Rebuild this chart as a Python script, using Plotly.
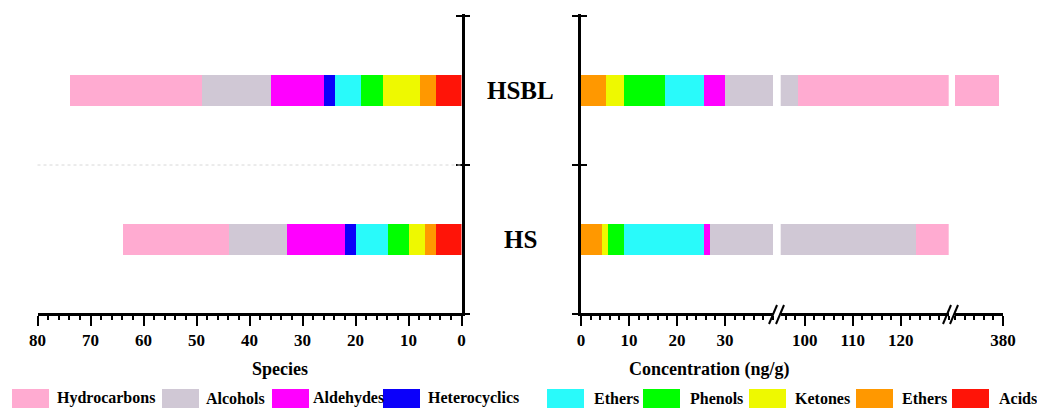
import plotly.graph_objects as go

# ---------------- data ----------------
samples = ["HS", "HSBL"]
classes = ["Acids", "Ethers", "Ketones", "Phenols", "Ethers", "Heterocyclics",
           "Aldehydes", "Alcohols", "Hydrocarbons"]
species_HS = [5, 2, 3, 4, 6, 2, 11, 11, 20]
species_HSBL = [5, 3, 7, 4, 5, 2, 10, 13, 25]
conc_HS = [0, 4.4, 1.3, 3.3, 16.6, 0, 1.2, 96.3, 7.2]
conc_HSBL = [0, 5.2, 3.7, 8.5, 8.3, 0, 4.4, 68.4, 280.7]
species_ticks = [80, 70, 60, 50, 40, 30, 20, 10, 0]
conc_seg_ranges = [[0, 40], [95, 130], [370, 380]]
conc_seg_ticks = [[0, 10, 20, 30], [100, 110, 120], [380]]

# ---------------- style ----------------
colors = ["#FF1408", "#FF9800", "#EEF900", "#00FF00", "#29FAFA", "#0B00FA",
          "#FF00FF", "#D0C8D5", "#FFABD1"]
W, H = 1037, 408
FONT = "Liberation Serif"
def px(x):
    return x / W
def py(y):
    return 1 - y / H

y_pos = list(range(len(samples)))
y_bounds = [k - 0.5 for k in range(len(samples) + 1)]
EPS = 0.012
y_range = [y_bounds[0] - EPS, y_bounds[-1] + EPS]
PLOT_TOP, PLOT_BOT = 16, 314
unit_px = (PLOT_BOT - PLOT_TOP) / len(samples)
y_dom = [py(PLOT_BOT + EPS * unit_px), py(PLOT_TOP - EPS * unit_px)]
x_axis_pos = py(PLOT_BOT)

left_dom = [px(37.5), px(461.5)]
seg_doms = [[px(581), px(773)], [px(780.7), px(948.7)], [px(955), px(1003)]]
seg_axes = ["x2", "x3", "x4"]
bar_w = 0.21

fig = go.Figure()
for i, name in enumerate(classes):
    fig.add_trace(go.Bar(y=y_pos, x=[species_HS[i], species_HSBL[i]], orientation="h",
                         marker=dict(color=colors[i], line=dict(width=0)), width=bar_w,
                         xaxis="x", yaxis="y", showlegend=False, name=name))
    for ax in seg_axes:
        fig.add_trace(go.Bar(y=y_pos, x=[conc_HS[i], conc_HSBL[i]], orientation="h",
                             marker=dict(color=colors[i], line=dict(width=0)), width=bar_w,
                             xaxis=ax, yaxis="y2", showlegend=False, name=name))
# helper traces for crossing ticks
fig.add_trace(go.Scatter(x=[None, None], y=y_pos, xaxis="x", yaxis="y3", showlegend=False, hoverinfo="skip"))
fig.add_trace(go.Scatter(x=[None, None], y=y_pos, xaxis="x2", yaxis="y4", showlegend=False, hoverinfo="skip"))

tickfont = dict(family=FONT, size=17, color="black", weight="bold")
common_x = dict(showline=True, linecolor="black", linewidth=2.5, ticks="outside", ticklen=10,
                tickwidth=2, tickcolor="black", showgrid=False, zeroline=False, tickfont=tickfont,
                automargin=False, anchor="free", position=x_axis_pos,
                minor=dict(dtick=2, tick0=0, ticks="outside", ticklen=4, tickwidth=1.5,
                           tickcolor="black", showgrid=False))
common_y = dict(range=y_range, tickmode="array", tickvals=y_bounds, ticklen=6, tickwidth=2,
                tickcolor="black", automargin=False, showticklabels=False, showgrid=False,
                zeroline=False, domain=y_dom)

layout = dict(
    width=W, height=H, autosize=False,
    margin=dict(l=0, r=0, t=0, b=0, pad=0, autoexpand=False), barmode="stack", bargap=0,
    plot_bgcolor="rgba(0,0,0,0)", paper_bgcolor="white",
    xaxis=dict(domain=left_dom, range=[80, 0], tickmode="array",
               tickvals=species_ticks, **common_x),
    yaxis=dict(anchor="x", side="right", showline=True, linecolor="black", linewidth=2.5,
               ticks="outside", **common_y),
    yaxis3=dict(anchor="x", side="right", overlaying="y", showline=False, ticks="inside", **common_y),
    yaxis2=dict(anchor="x2", side="left", showline=True, linecolor="black", linewidth=2.5,
                ticks="outside", **common_y),
    yaxis4=dict(anchor="x2", side="left", overlaying="y2", showline=False, ticks="inside", **common_y),
)
for k, ax in enumerate(seg_axes):
    layout["xaxis" + ax[1:]] = dict(domain=seg_doms[k], range=conc_seg_ranges[k],
                                    tickmode="array", tickvals=conc_seg_ticks[k], **common_x)
fig.update_layout(**layout)

# dotted separator on left panel
fig.add_shape(type="line", xref="x domain", x0=0, x1=1, yref="y", y0=y_bounds[1], y1=y_bounds[1],
              line=dict(color="#D8D8D8", width=1, dash="dot"))

# axis break marks
for c in [777, 951]:
    for dx in [-8, -1]:
        fig.add_shape(type="line", xref="paper", yref="paper",
                      x0=px(c + dx), y0=py(324), x1=px(c + dx + 8), y1=py(305),
                      line=dict(color="black", width=2))

ann = []
for k, s in enumerate(samples):
    ann.append(dict(text=s, x=px(520), xref="paper", y=y_pos[k], yref="y", showarrow=False,
                    xanchor="center", yanchor="middle",
                    font=dict(family=FONT, size=25, color="black", weight="bold")))
title_font = dict(family=FONT, size=18, color="black", weight="bold")
ann.append(dict(text="Species", x=(left_dom[0] + left_dom[1]) / 2, y=py(369), xref="paper", yref="paper",
                showarrow=False, yanchor="middle", font=title_font))
ann.append(dict(text="Concentration (ng/g)", x=px(792), y=py(369), xref="paper", yref="paper",
                showarrow=False, yanchor="middle", font=title_font))

# manual legend
legend_order = [8, 7, 6, 5, 4, 3, 2, 1, 0]
legend_box_x = [12, 162, 272, 383, 547, 643, 749, 856, 952]
legend_text_x = [55, 204, 311, 426, 592, 688, 793, 900, 997]
for j, idx in enumerate(legend_order):
    x0 = legend_box_x[j]
    fig.add_shape(type="rect", xref="paper", yref="paper", x0=px(x0), x1=px(x0 + 37),
                  y0=py(408), y1=py(389), fillcolor=colors[idx], line=dict(width=0))
    ann.append(dict(text=classes[idx], x=px(legend_text_x[j]), y=py(398), xref="paper", yref="paper",
                    xanchor="left", yanchor="middle", showarrow=False,
                    font=dict(family=FONT, size=16, color="black", weight="bold")))
fig.update_layout(annotations=ann)

fig.write_html("out.html", config={"displayModeBar": False},
               post_script="document.body.style.margin='0';document.body.style.overflow='hidden';"
                           "document.documentElement.style.overflow='hidden';")
